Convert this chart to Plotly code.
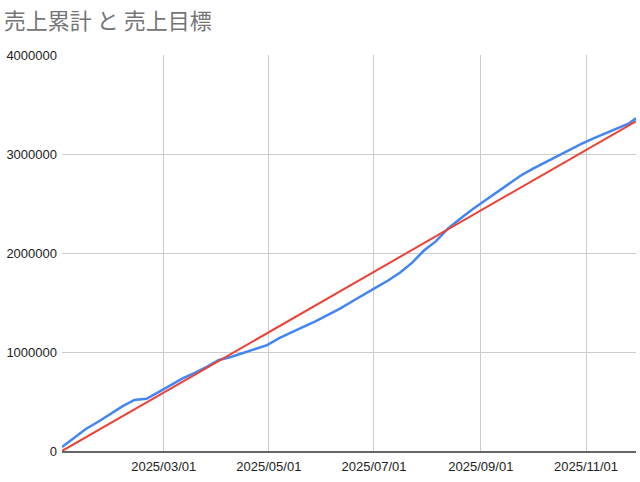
import plotly.graph_objs as go

# weekly reading of the cumulative sales line
dates = [
    '2025-01-01', '2025-01-08', '2025-01-15', '2025-01-22', '2025-01-29',
    '2025-02-05', '2025-02-12', '2025-02-19', '2025-02-26', '2025-03-05',
    '2025-03-12', '2025-03-19', '2025-03-26', '2025-04-02', '2025-04-09',
    '2025-04-16', '2025-04-23', '2025-04-30', '2025-05-07', '2025-05-14',
    '2025-05-21', '2025-05-28', '2025-06-04', '2025-06-11', '2025-06-18',
    '2025-06-25', '2025-07-02', '2025-07-09', '2025-07-16', '2025-07-23',
    '2025-07-30', '2025-08-06', '2025-08-13', '2025-08-20', '2025-08-27',
    '2025-09-03', '2025-09-10', '2025-09-17', '2025-09-24', '2025-10-01',
    '2025-10-08', '2025-10-15', '2025-10-22', '2025-10-29', '2025-11-05',
    '2025-11-12', '2025-11-19', '2025-11-26', '2025-11-30',
]
sales_total = [
    40000, 135000, 225000, 295000, 375000,
    450000, 515000, 528000, 595000, 665000,
    734000, 790000, 850000, 919000, 950000,
    990000, 1030000, 1070000, 1140000, 1200000,
    1255000, 1310000, 1370000, 1435000, 1508000,
    1575000, 1650000, 1720000, 1800000, 1900000,
    2025000, 2120000, 2249000, 2345000, 2440000,
    2525000, 2610000, 2695000, 2780000, 2850000,
    2912000, 2980000, 3035000, 3100000, 3155000,
    3205000, 3255000, 3310000, 3360000,
]

target_dates = ['2025-01-01', '2025-11-30']
target_values = [0, 3330000]

tick_dates = ['2025-03-01', '2025-05-01', '2025-07-01', '2025-09-01', '2025-11-01']
tick_labels = ['2025/03/01', '2025/05/01', '2025/07/01', '2025/09/01', '2025/11/01']

fig = go.Figure()
fig.add_trace(go.Scatter(x=dates, y=sales_total, mode='lines',
                         line=dict(color='#4285f4', width=2.5), name='売上累計'))
fig.add_trace(go.Scatter(x=target_dates, y=target_values, mode='lines',
                         line=dict(color='#ea4335', width=2), name='売上目標'))

fig.update_layout(
    width=640, height=482,
    margin=dict(l=62, r=4, t=55, b=31),
    paper_bgcolor='white', plot_bgcolor='white',
    showlegend=False,
    font=dict(family='Liberation Sans, Arial, sans-serif', size=13, color='#222222'),
    title=dict(text='売上累計 と 売上目標', x=0.006, xanchor='left', y=0.972, yanchor='top',
               font=dict(family='Noto Sans CJK JP', size=22, color='#757575')),
)
fig.update_xaxes(
    range=['2025-01-01', '2025-11-30'],
    tickvals=tick_dates, ticktext=tick_labels,
    showgrid=True, gridcolor='#cccccc', gridwidth=1,
    showline=True, linecolor='#666666', linewidth=2,
    ticks='', ticklabelstandoff=2,
)
fig.update_yaxes(
    range=[0, 4000000], dtick=1000000, tickformat='d',
    showgrid=True, gridcolor='#cccccc', gridwidth=1,
    zeroline=False, ticks='', ticklabelstandoff=4,
)

# drop the page's default body margin so the figure fills the window
fig.write_html('out.html', config={'displayModeBar': False},
               post_script="document.body.style.margin='0';")
